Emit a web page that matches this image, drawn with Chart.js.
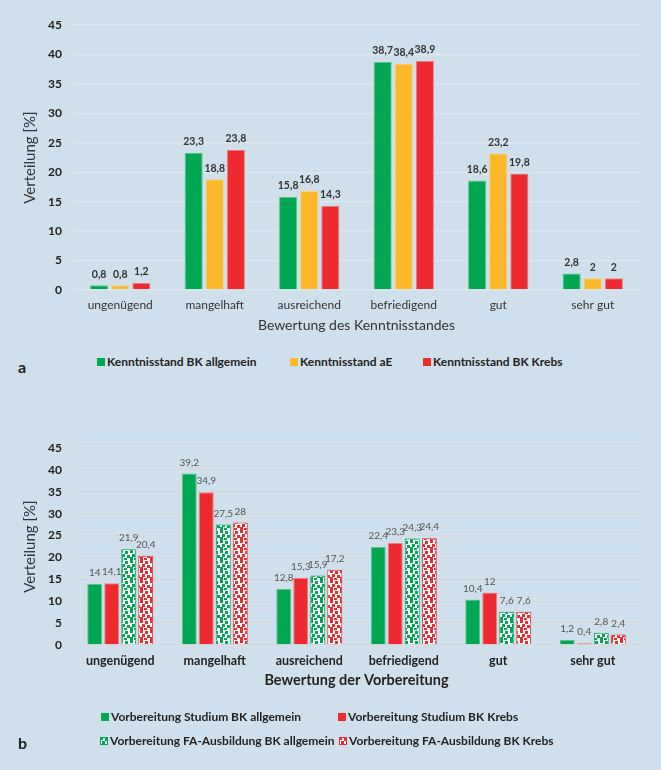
<!DOCTYPE html>
<html>
<head>
<meta charset="utf-8">
<script src="https://cdn.jsdelivr.net/npm/chart.js@4"></script>
<style>
  body { margin: 0; background: #cfe0ec; font-family: Lato, sans-serif; }
  #wrap { position: relative; width: 661px; height: 770px; background: #cfe0ec; overflow: hidden; }
  canvas { position: absolute; left: 0; }
  .leg { position: absolute; font-weight: bold; font-size: 12px; color: #222; white-space: nowrap; line-height: 14px; }
  .leg i { display: inline-block; width: 8px; height: 8px; margin-right: 2px; vertical-align: -0px; }
  .tag { position: absolute; font-weight: bold; font-size: 16px; color: #222; }
</style>
</head>
<body>
<div id="wrap">
  <canvas id="chartA" width="661" height="345" style="top:0"></canvas>
  <canvas id="chartB" width="661" height="330" style="top:380px"></canvas>

  <div class="leg" style="left:97px;top:355px"><i style="background:#00a651"></i>Kenntnisstand BK allgemein</div>
  <div class="leg" style="left:290px;top:355px"><i style="background:#fbb829"></i>Kenntnisstand aE</div>
  <div class="leg" style="left:423px;top:355px"><i style="background:#ec2a2f"></i>Kenntnisstand BK Krebs</div>
  <div class="tag" style="left:18px;top:357px">a</div>

  <div class="leg" style="left:101px;top:710px"><i style="background:#00a651"></i>Vorbereitung Studium BK allgemein</div>
  <div class="leg" style="left:338px;top:710px"><i style="background:#ec2a2f"></i>Vorbereitung Studium BK Krebs</div>
  <div class="leg" style="left:100px;top:734px"><i id="patG"></i>Vorbereitung FA-Ausbildung BK allgemein</div>
  <div class="leg" style="left:339px;top:734px"><i id="patR"></i>Vorbereitung FA-Ausbildung BK Krebs</div>
  <div class="tag" style="left:18px;top:733px">b</div>
</div>
<script>
// data
const categories = ['ungenügend', 'mangelhaft', 'ausreichend', 'befriedigend', 'gut', 'sehr gut'];

const kenntnisAllgemein = [0.8, 23.3, 15.8, 38.7, 18.6, 2.8];
const kenntnisAE = [0.8, 18.8, 16.8, 38.4, 23.2, 2];
const kenntnisKrebs = [1.2, 23.8, 14.3, 38.9, 19.8, 2];

const studiumAllgemein = [14, 39.2, 12.8, 22.4, 10.4, 1.2];
const studiumKrebs = [14.1, 34.9, 15.3, 23.3, 12, 0.4];
const faAllgemein = [21.9, 27.5, 15.9, 24.3, 7.6, 2.8];
const faKrebs = [20.4, 28, 17.2, 24.4, 7.6, 2.4];

const yMax = 45;
const yStep = 5;

const GREEN = '#00a651';
const YELLOW = '#fbb829';
const RED = '#ec2a2f';

// dotted fill like the FA-Ausbildung bars
function makeTile(color) {
    const c = document.createElement('canvas');
    c.width = 10; c.height = 10;
    const g = c.getContext('2d');
    g.fillStyle = '#ffffff';
    g.fillRect(0, 0, 10, 10);
    g.fillStyle = color;
    [[0, 0], [5, 1], [2, 4], [7, 5], [0, 7], [4, 8]].forEach(([x, y]) => g.fillRect(x, y, 3, 3));
    return c;
}
const tileG = makeTile(GREEN);
const tileR = makeTile(RED);
document.getElementById('patG').style.cssText = `background:url(${tileG.toDataURL()});box-shadow:inset 0 0 0 1px ${GREEN}`;
document.getElementById('patR').style.cssText = `background:url(${tileR.toDataURL()});box-shadow:inset 0 0 0 1px ${RED}`;

const fmt = v => String(v).replace('.', ',');

const valueLabels = {
    id: 'valueLabels',
    afterDatasetsDraw(chart, args, opts) {
        const ctx = chart.ctx;
        ctx.save();
        ctx.font = opts.font;
        ctx.fillStyle = opts.color;
        ctx.textAlign = 'center';
        ctx.textBaseline = 'middle';
        chart.data.datasets.forEach((ds, i) => {
            chart.getDatasetMeta(i).data.forEach((bar, j) => {
                ctx.fillText(fmt(ds.data[j]), bar.x, bar.y - 11);
            });
        });
        ctx.restore();
    }
};

const yAxis = (gridColor) => ({
    min: 0,
    max: yMax,
    ticks: { stepSize: yStep, padding: 11, color: '#222', font: { family: 'Lato', size: 12, weight: 'bold' } },
    grid: { color: gridColor, lineWidth: 1.3, drawTicks: false },
    border: { display: false },
    title: { display: true, text: 'Verteilung [%]', color: '#333', padding: { top: 21 }, font: { family: 'Lato', size: 15 } },
    afterFit: s => { s.width = 73; }
});

new Chart(document.getElementById('chartA'), {
    type: 'bar',
    data: {
        labels: categories,
        datasets: [
            { label: 'Kenntnisstand BK allgemein', data: kenntnisAllgemein, backgroundColor: GREEN, borderColor: '#5cc58a', borderWidth: 1 },
            { label: 'Kenntnisstand aE', data: kenntnisAE, backgroundColor: YELLOW, borderColor: '#fcd06e', borderWidth: 1 },
            { label: 'Kenntnisstand BK Krebs', data: kenntnisKrebs, backgroundColor: RED, borderColor: '#f27a7c', borderWidth: 1 }
        ]
    },
    options: {
        responsive: false,
        animation: false,
        devicePixelRatio: 1,
        categoryPercentage: 0.67,
        barPercentage: 0.86,
        layout: { padding: { top: 25, right: 21, left: 0, bottom: 0 } },
        plugins: {
            legend: { display: false },
            tooltip: { enabled: false },
            valueLabels: { font: 'bold 10.5px Lato', color: '#333' }
        },
        scales: {
            x: {
                grid: { display: false, drawTicks: false },
                border: { display: false },
                ticks: { padding: 8, color: '#333', font: { family: 'Lato', size: 12 } },
                title: { display: true, text: 'Bewertung des Kenntnisstandes', color: '#333', padding: { bottom: 11 }, font: { family: 'Lato', size: 14 } },
                afterFit: s => { s.height = 55; }
            },
            y: yAxis('#dfe8ef')
        }
    },
    plugins: [valueLabels]
});

const ctxB = document.getElementById('chartB').getContext('2d');
const patG = ctxB.createPattern(tileG, 'repeat');
const patR = ctxB.createPattern(tileR, 'repeat');

new Chart(ctxB, {
    type: 'bar',
    data: {
        labels: categories,
        datasets: [
            { label: 'Vorbereitung Studium BK allgemein', data: studiumAllgemein, backgroundColor: GREEN, borderColor: '#5cc58a', borderWidth: 1 },
            { label: 'Vorbereitung Studium BK Krebs', data: studiumKrebs, backgroundColor: RED, borderColor: '#f27a7c', borderWidth: 1 },
            { label: 'Vorbereitung FA-Ausbildung BK allgemein', data: faAllgemein, backgroundColor: patG, borderColor: GREEN, borderWidth: 1 },
            { label: 'Vorbereitung FA-Ausbildung BK Krebs', data: faKrebs, backgroundColor: patR, borderColor: RED, borderWidth: 1 }
        ]
    },
    options: {
        responsive: false,
        animation: false,
        devicePixelRatio: 1,
        categoryPercentage: 0.72,
        barPercentage: 0.88,
        layout: { padding: { top: 68, right: 21, left: 0, bottom: 0 } },
        plugins: {
            legend: { display: false },
            tooltip: { enabled: false },
            valueLabels: { font: '10px Lato', color: '#555' }
        },
        scales: {
            x: {
                grid: { display: false, drawTicks: false },
                border: { display: false },
                ticks: { padding: 8, color: '#222', font: { family: 'Lato', size: 12.5, weight: 'bold' } },
                title: { display: true, text: 'Bewertung der Vorbereitung', color: '#222', padding: { bottom: 21 }, font: { family: 'Lato', size: 14.5, weight: 'bold' } },
                afterFit: s => { s.height = 65; }
            },
            y: yAxis('#d6d9dc')
        }
    },
    plugins: [valueLabels]
});
</script>
</body>
</html>
